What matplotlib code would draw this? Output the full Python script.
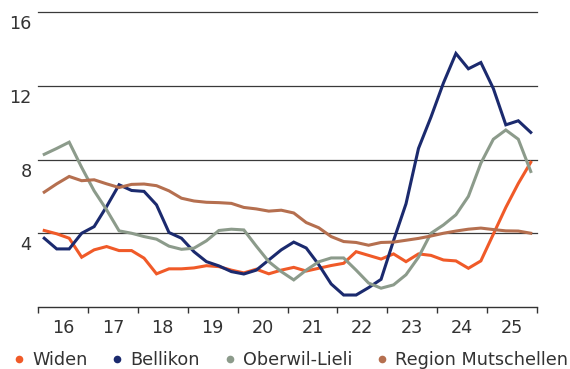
import matplotlib
matplotlib.use("Agg")
import matplotlib.pyplot as plt
from matplotlib.lines import Line2D
import numpy as np

# quarterly values, 2016 Q1 .. 2025 Q4
widen = [4.15, 3.97, 3.73, 2.7, 3.1, 3.28, 3.06, 3.06, 2.65, 1.8,
         2.07, 2.07, 2.12, 2.24, 2.19, 2.0, 1.85, 2.05, 1.8, 2.0,
         2.15, 1.95, 2.1, 2.25, 2.37, 3.0, 2.8, 2.6, 2.88, 2.46,
         2.88, 2.8, 2.55, 2.5, 2.1, 2.5, 3.95, 5.4, 6.7, 7.85]
bellikon = [3.73, 3.15, 3.15, 4.0, 4.36, 5.45, 6.63, 6.32, 6.27, 5.54,
            4.04, 3.73, 3.0, 2.46, 2.23, 1.92, 1.79, 2.0, 2.55, 3.1,
            3.52, 3.2, 2.3, 1.25, 0.65, 0.65, 1.05, 1.5, 3.6, 5.6,
            8.6, 10.3, 12.15, 13.75, 12.92, 13.26, 11.85, 9.88, 10.1, 9.47]
oberwil = [8.28, 8.6, 8.94, 7.57, 6.3, 5.27, 4.13, 4.0, 3.82, 3.68,
           3.3, 3.13, 3.19, 3.59, 4.15, 4.22, 4.18, 3.3, 2.46, 1.92,
           1.47, 2.0, 2.45, 2.66, 2.66, 2.0, 1.3, 1.02, 1.2, 1.75,
           2.7, 4.0, 4.45, 5.0, 6.0, 7.8, 9.1, 9.6, 9.1, 7.35]
region = [6.23, 6.68, 7.08, 6.85, 6.9, 6.68, 6.48, 6.65, 6.67, 6.58,
          6.3, 5.9, 5.75, 5.68, 5.66, 5.62, 5.4, 5.32, 5.2, 5.25,
          5.1, 4.58, 4.3, 3.82, 3.55, 3.5, 3.35, 3.5, 3.52, 3.62,
          3.72, 3.85, 4.0, 4.12, 4.22, 4.28, 4.2, 4.13, 4.12, 4.0]

years = np.arange(2016, 2026)
year_labels = ['16', '17', '18', '19', '20', '21', '22', '23', '24', '25']
y_ticks = [4, 8, 12, 16]

names = ['Widen', 'Bellikon', 'Oberwil-Lieli', 'Region Mutschellen']
colors = ['#F05A28', '#1B2A6E', '#8C9B8B', '#B56F4F']
series = [widen, bellikon, oberwil, region]

# quarter midpoints
x = np.repeat(years, 4) + np.tile([0.125, 0.375, 0.625, 0.875], len(years))

plt.rcParams['font.family'] = ['DejaVu Sans']
text_color = '#333333'

fig = plt.figure(figsize=(5.7, 3.69), dpi=100)
ax = fig.add_axes([38 / 570, 1 - 307 / 369, (537 - 38) / 570, (307 - 12) / 369])

for yv in y_ticks:
    ax.axhline(yv, color='#3a3a3a', lw=0.9, zorder=1, clip_on=False)
    ax.annotate(str(yv), xy=(0, yv), xycoords=('axes fraction', 'data'),
                xytext=(-4.5, -2.2), textcoords='offset points',
                ha='right', va='top', fontsize=12.7, color=text_color)

for vals, c in zip(series, colors):
    ax.plot(x, vals, color=c, lw=2.2, solid_joinstyle='miter', zorder=3)

ax.set_xlim(2016, 2026)
ax.set_ylim(0, 16)
ax.set_yticks([])

ax.set_xticks(np.arange(2016, 2027))
ax.set_xticklabels([])
ax.set_xticks(years + 0.5, minor=True)
ax.set_xticklabels(year_labels, minor=True)
ax.tick_params(axis='x', which='major', direction='out', length=4, width=1, color='#333333')
ax.tick_params(axis='x', which='minor', length=0, pad=8.5, labelsize=12.7, labelcolor=text_color)

for s in ['top', 'left', 'right']:
    ax.spines[s].set_visible(False)
ax.spines['bottom'].set_color('#333333')
ax.spines['bottom'].set_linewidth(1)

handles = [Line2D([], [], marker='o', ls='none', markersize=5.5, color=c,
                  markeredgewidth=0) for c in colors]
fig.legend(handles, names, ncol=4, loc='center left',
           bbox_to_anchor=(14 / 570, 1 - 360 / 369), frameon=False,
           fontsize=12.7, labelcolor=text_color, handlelength=0.6,
           handletextpad=0.45, columnspacing=1.37, borderpad=0,
           borderaxespad=0)

fig.savefig('out.png', dpi=100)
